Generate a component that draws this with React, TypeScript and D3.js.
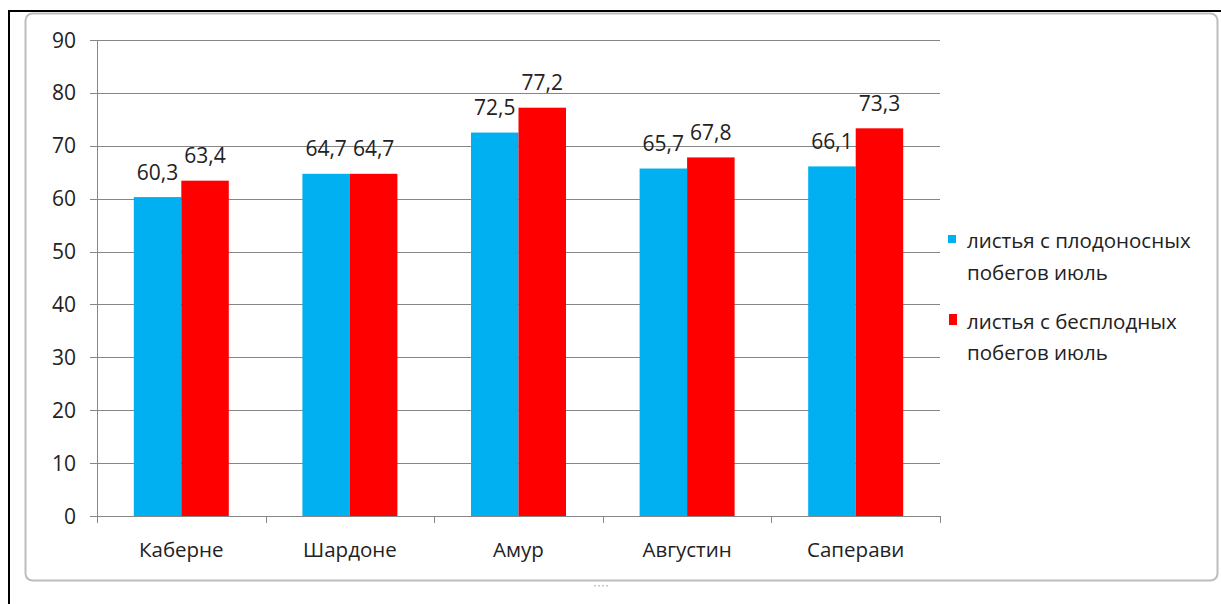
import React from "react";
import * as d3 from "d3";

const categories = ["Каберне", "Шардоне", "Амур", "Августин", "Саперави"];
const seriesNames = [
  ["листья с плодоносных", "побегов июль"],
  ["листья с бесплодных", "побегов июль"],
];
const fruitingShoots = [60.3, 64.7, 72.5, 65.7, 66.1];
const barrenShoots = [63.4, 64.7, 77.2, 67.8, 73.3];
const yTicks = [0, 10, 20, 30, 40, 50, 60, 70, 80, 90];
const colors = ["#00B0F0", "#FF0000"];

const W = 1221;
const H = 604;
const FONT = "'Open Sans', 'DejaVu Sans', sans-serif";
const TEXT = "#222";

export default function App() {
  const series = [fruitingShoots, barrenShoots];
  const x0 = d3
    .scaleBand<string>()
    .domain(categories)
    .range([97, 940])
    .paddingInner(0.4365)
    .paddingOuter(0.4365 / 2);
  const x1 = d3
    .scaleBand<number>()
    .domain([0, 1])
    .range([0, x0.bandwidth()]);
  const y = d3.scaleLinear().domain([0, 90]).range([516, 40]);
  const fmt = (v: number) => v.toFixed(1).replace(".", ",");
  const step = x0.step();
  const catEdges = d3.range(categories.length + 1).map((i) => 97 + i * step);
  const py = (v: number) => Math.round(y(v)) + 0.5;

  // legend swatch geometry per series
  const swatches = [
    { x: 948, y: 235, w: 8, h: 8 },
    { x: 949, y: 314, w: 8, h: 11 },
  ];
  const legendBaselines = [
    [248, 280],
    [329, 360],
  ];

  return (
    <svg
      width={W}
      height={H}
      style={{ position: "absolute", left: 0, top: 0, background: "#fff" }}
      fontFamily={FONT}
    >
      {/* outer black frame */}
      <line x1={9} y1={11} x2={W} y2={11} stroke="#000" strokeWidth={2} />
      <line x1={9} y1={10} x2={9} y2={H} stroke="#000" strokeWidth={2} />
      {/* chart area border */}
      <rect
        x={25.5}
        y={13.5}
        width={1192}
        height={567}
        rx={7}
        fill="#fff"
        stroke="#bdbdbd"
        strokeWidth={2}
      />
      <rect x={28} y={15} width={1187} height={563} rx={6} fill="#fff" />
      <g fill="#c8c8c8">
        {d3.range(4).map((i) => (
          <rect key={i} x={594 + i * 4} y={585} width={2} height={1.5} />
        ))}
      </g>

      {/* gridlines */}
      {yTicks.map((t) => (
        <line
          key={t}
          x1={90}
          x2={940}
          y1={py(t)}
          y2={py(t)}
          stroke="#868686"
          strokeWidth={1}
        />
      ))}
      {/* y axis */}
      <line x1={97.5} x2={97.5} y1={py(90)} y2={py(0)} stroke="#868686" />
      {yTicks.map((t) => (
        <text
          key={t}
          x={76}
          y={y(t)}
          dy="0.36em"
          textAnchor="end"
          fontSize={21}
          fill={TEXT}
        >
          {t}
        </text>
      ))}

      {/* bars */}
      {categories.map((c, i) =>
        series.map((s, k) => {
          const bx = (x0(c) as number) + (x1(k) as number);
          const v = s[i];
          return (
            <g key={c + k}>
              <rect
                x={bx}
                y={y(v)}
                width={x1.bandwidth()}
                height={y(0) - y(v)}
                fill={colors[k]}
              />
              <text
                x={bx + x1.bandwidth() / 2}
                y={y(v) - 17.5}
                textAnchor="middle"
                fontSize={21}
                fill={TEXT}
              >
                {fmt(v)}
              </text>
            </g>
          );
        })
      )}

      {/* x axis */}
      <line x1={97} x2={940} y1={py(0)} y2={py(0)} stroke="#868686" />
      {catEdges.map((ex, i) => (
        <line
          key={i}
          x1={Math.round(ex) + 0.5}
          x2={Math.round(ex) + 0.5}
          y1={y(0)}
          y2={y(0) + 7}
          stroke="#868686"
        />
      ))}
      {categories.map((c) => (
        <text
          key={c}
          x={(x0(c) as number) + x0.bandwidth() / 2}
          y={557}
          textAnchor="middle"
          fontSize={20.5}
          fill={TEXT}
        >
          {c}
        </text>
      ))}

      {/* legend */}
      {seriesNames.map((lines, k) => (
        <g key={k}>
          <rect
            x={swatches[k].x}
            y={swatches[k].y}
            width={swatches[k].w}
            height={swatches[k].h}
            fill={colors[k]}
          />
          {lines.map((ln, j) => (
            <text
              key={j}
              x={967}
              y={legendBaselines[k][j]}
              fontSize={20.5}
              fill={TEXT}
            >
              {ln}
            </text>
          ))}
        </g>
      ))}
    </svg>
  );
}
